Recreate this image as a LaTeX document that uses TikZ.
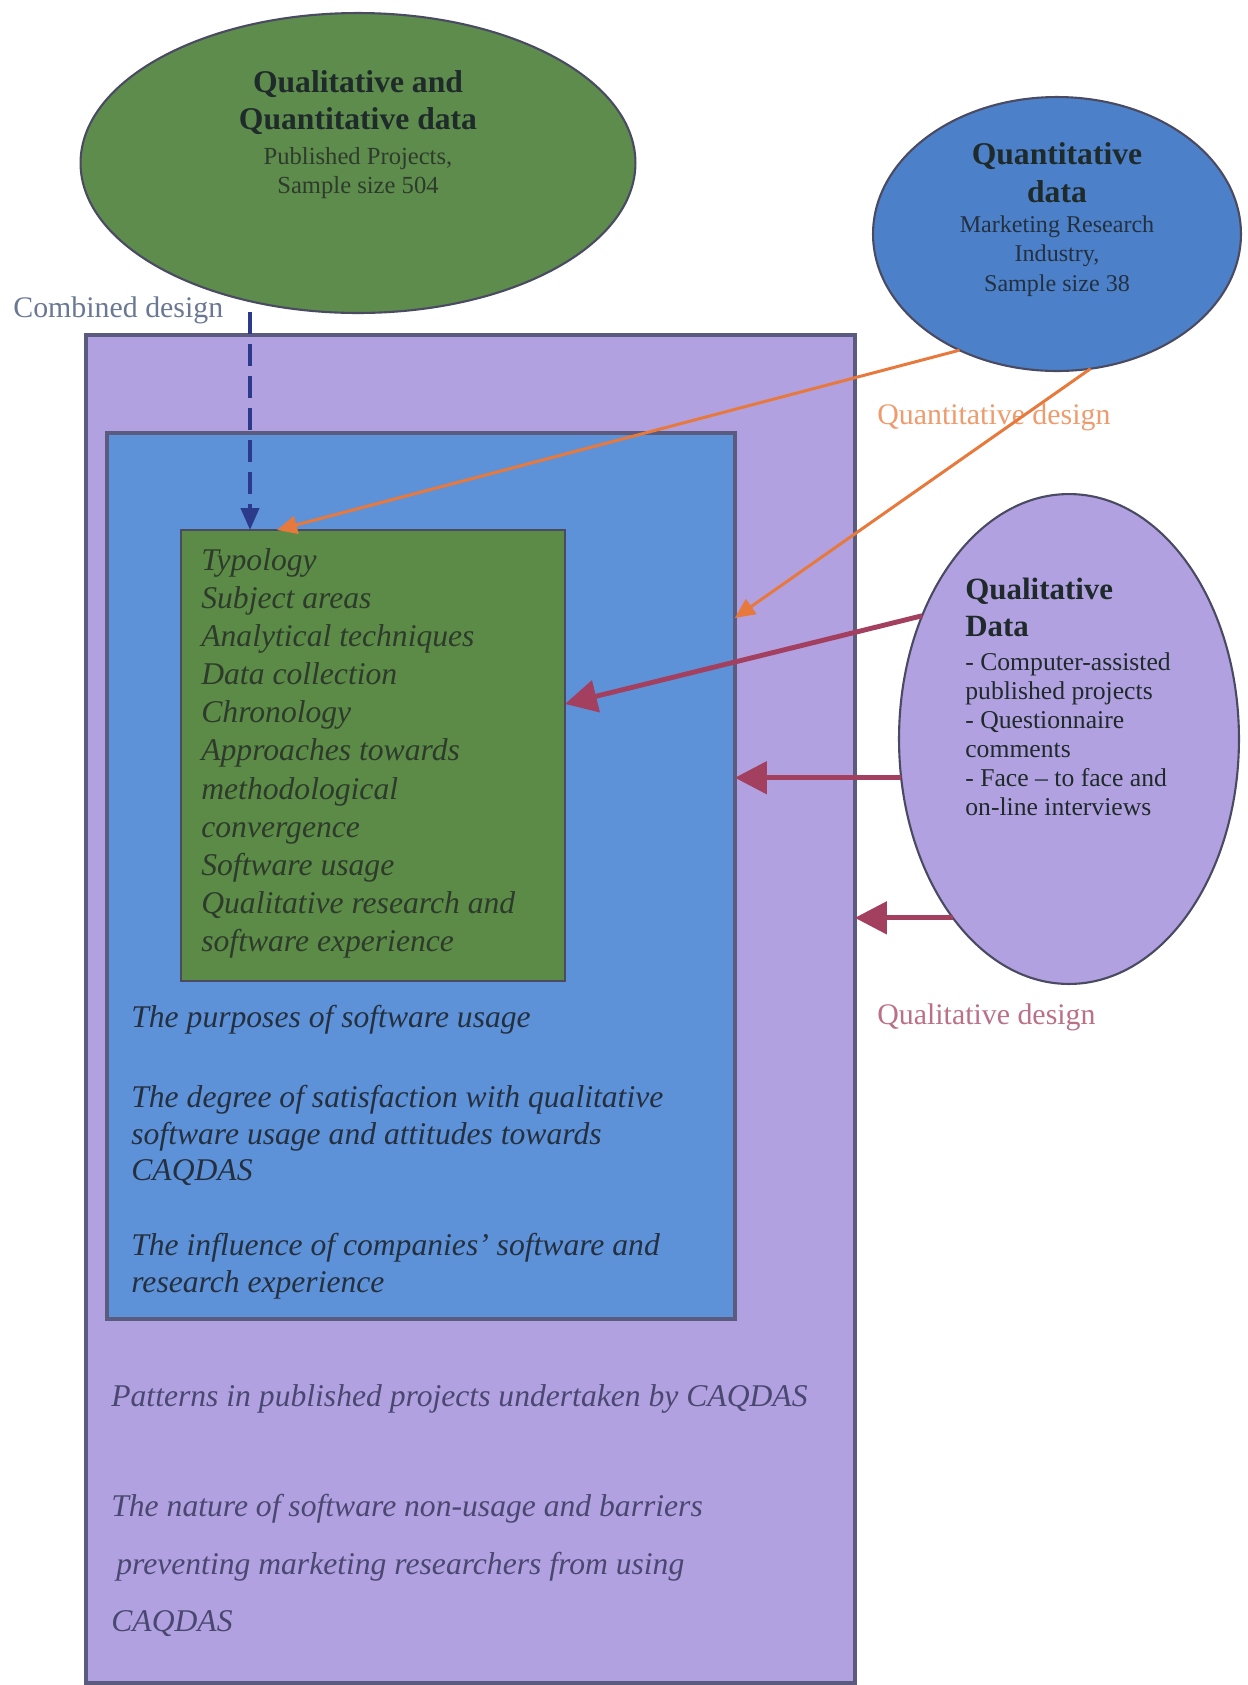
\documentclass[tikz,border=0pt]{standalone}
\usepackage{fontspec}
\setmainfont{Liberation Serif}
\usetikzlibrary{shapes.geometric,arrows.meta}
\definecolor{leafgreen}{HTML}{5E8C4C}
\definecolor{boxgreen}{HTML}{5B8B46}
\definecolor{skyblue}{HTML}{4C81C9}
\definecolor{boxblue}{HTML}{5E92D8}
\definecolor{lavender}{HTML}{B1A1E1}
\definecolor{framegrey}{HTML}{5B5B80}
\definecolor{blobline}{HTML}{4A4A62}
\definecolor{navy}{HTML}{2C3A8C}
\definecolor{tangerine}{HTML}{E8793C}
\definecolor{mauve}{HTML}{A3405F}
\definecolor{inkdark}{HTML}{1F2A2A}
\definecolor{greenink}{HTML}{2E3B2C}
\definecolor{blueink}{HTML}{243040}
\definecolor{purpleink}{HTML}{4A4870}
\definecolor{slateink}{HTML}{6B7894}
\tikzset{
	box/.style={draw=framegrey,line width=2.3pt,anchor=north west,inner sep=0pt,outer sep=0pt},
	blob/.style={ellipse,draw=blobline,line width=1.2pt,inner sep=0pt,outer sep=0pt},
	blobtitle/.style={font=\fontsize{18}{21}\selectfont\bfseries,text=inkdark,inner sep=0pt},
	blobsub/.style={font=\fontsize{14}{16.5}\selectfont,inner sep=0pt},
	boxtext/.style={font=\fontsize{18}{21.7}\selectfont\itshape,align=left,anchor=north west,inner sep=0pt},
	design/.style={font=\fontsize{17}{20}\selectfont,anchor=base west,inner sep=0pt},
	quantarrow/.style={draw=tangerine,line width=1.7pt,-{Triangle[length=4mm,width=3.6mm]}},
	qualarrow/.style={draw=mauve,line width=2.8pt,-{Triangle[length=6.4mm,width=6.4mm]}}
}
\begin{document}
\begin{tikzpicture}[x=0.02cm,y=-0.02cm]
	\path[use as bounding box,fill=white] (0,0) rectangle (1248,1685);
	% nested boxes
	\node[box,fill=lavender,minimum width=15.38cm,minimum height=26.96cm] (outer) at (86,335) {};
	\node[box,fill=boxblue,minimum width=12.56cm,minimum height=17.72cm] (chapters) at (107,433) {};
	\node[box,fill=boxgreen,draw=blobline,line width=1.4pt,minimum width=7.68cm,minimum height=9.02cm] (topics) at (181,530) {};
	% data sources
	\node[blob,fill=leafgreen,minimum width=11.1cm,minimum height=6cm] (mixed) at (358,163) {};
	\node[blob,fill=skyblue,minimum width=7.36cm,minimum height=5.48cm] (quanti) at (1057,234) {};
	\node[blob,fill=lavender,minimum width=6.8cm,minimum height=9.8cm] (quali) at (1069,739) {};
	\node[blobtitle,align=center,anchor=north] (mixedtitle) at (358,70) {Qualitative and\\Quantitative data};
	\node[blobsub,align=center,anchor=north,text=greenink] (mixedsub) at (358,147) {Published Projects,\\Sample size 504};
	\node[blobtitle,align=center,anchor=north,font=\fontsize{18}{21.6}\selectfont\bfseries] (quantititle) at (1057,142) {Quantitative\\data};
	\node[blobsub,align=center,anchor=north,text=blueink,font=\fontsize{13.7}{16.8}\selectfont] (quantisub) at (1057,215) {Marketing Research\\Industry,\\Sample size 38};
	\node[blobtitle,align=left,anchor=north west,font=\fontsize{17.6}{21}\selectfont\bfseries] (qualititle) at (965,578) {Qualitative\\Data};
	\node[blobsub,align=left,anchor=north west,text=inkdark,font=\fontsize{14.6}{16.6}\selectfont] (qualisub) at (965,652) {- Computer-assisted\\published projects\\- Questionnaire\\comments\\- Face -- to face and\\on-line interviews};
	% box texts
	\node[boxtext,text=greenink] (typology) at (201,548) {Typology\\Subject areas\\Analytical techniques\\Data collection\\Chronology\\Approaches towards\\methodological\\convergence\\Software usage\\Qualitative research and\\software experience};
	\node[boxtext,text=blueink] (purposes) at (131,1005) {The purposes of software usage};
	\node[boxtext,text=blueink,font=\fontsize{18}{20.8}\selectfont\itshape] (degree) at (131,1085) {The degree of satisfaction with qualitative\\software usage and attitudes towards\\CAQDAS};
	\node[boxtext,text=blueink,font=\fontsize{18}{20.8}\selectfont\itshape] (influence) at (131,1233) {The influence of companies' software and\\research experience};
	\node[boxtext,text=purpleink] (patterns) at (111,1384) {Patterns in published projects undertaken by CAQDAS};
	\node[boxtext,text=purpleink,font=\fontsize{18}{32.7}\selectfont\itshape] (nature) at (111,1494) {The nature of software non-usage and barriers\\\hspace{1mm}preventing marketing researchers from using\\CAQDAS};
	% design labels
	\node[design,text=slateink] (combined) at (13,317) {Combined design};
	\node[design,text=tangerine!75] (quantdesign) at (877,424) {Quantitative design};
	\node[design,text=mauve!75] (qualdesign) at (877,1024) {Qualitative design};
	% arrows
	\coordinate (cdtop) at (250,312);
	\draw[navy,line width=2.3pt,dash pattern=on 4.4mm off 2mm,-{Triangle[length=4.4mm,width=3.6mm]}] (cdtop) -- (cdtop |- topics.north);
	\draw[quantarrow] (quanti.230) -- ([xshift=1.92cm]topics.north west);
	\draw[quantarrow] (quanti.284) -- ([yshift=-3.7cm]chapters.north east);
	\draw[qualarrow] (quali.140) -- ([yshift=-3.48cm]topics.north east);
	\draw[qualarrow] (quali.193) -- (quali.193 -| chapters.east);
	\draw[qualarrow] (quali.237) -- (quali.237 -| outer.east);
\end{tikzpicture}
\end{document}
